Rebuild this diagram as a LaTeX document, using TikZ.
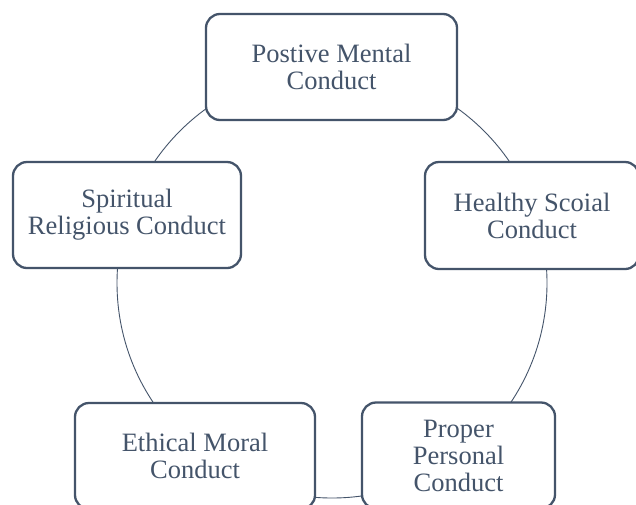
\documentclass[tikz,border=0pt]{standalone}
\usepackage{fontspec}
\setmainfont{LiberationSerif}[Extension=.ttf,UprightFont=*-Regular,BoldFont=*-Bold]
\definecolor{slate}{HTML}{44546A}
\begin{document}
\begin{tikzpicture}[x=1pt,y=-1pt,
  ring/.style={draw=slate,line width=0.9pt},
  cbox/.style={draw=slate,line width=2.3pt,fill=white,rounded corners=14pt,
    inner sep=0pt,align=center,text=slate,
    font=\fontsize{26.5}{27}\selectfont}]
\useasboundingbox (0,0) rectangle (636,504);
\fill[white] (0,0) rectangle (636,504);
\coordinate (c) at (332,283);
\draw[ring] (c) circle[radius=215pt];
\node[cbox,minimum width=251pt,minimum height=106pt] (pm) at (331.5,67) {Postive Mental\\Conduct};
\node[cbox,minimum width=214pt,minimum height=107pt] (hs) at (532,215.5) {Healthy Scoial\\Conduct};
\node[cbox,minimum width=228pt,minimum height=106pt] (sr) at (127,215) {Spiritual\\Religious Conduct};
\node[cbox,minimum width=240pt,minimum height=106pt] (em) at (195,456) {Ethical Moral\\Conduct};
\node[cbox,minimum width=193pt,minimum height=106pt] (pp) at (458.5,455.5) {Proper\\Personal\\Conduct};
\end{tikzpicture}
\end{document}
